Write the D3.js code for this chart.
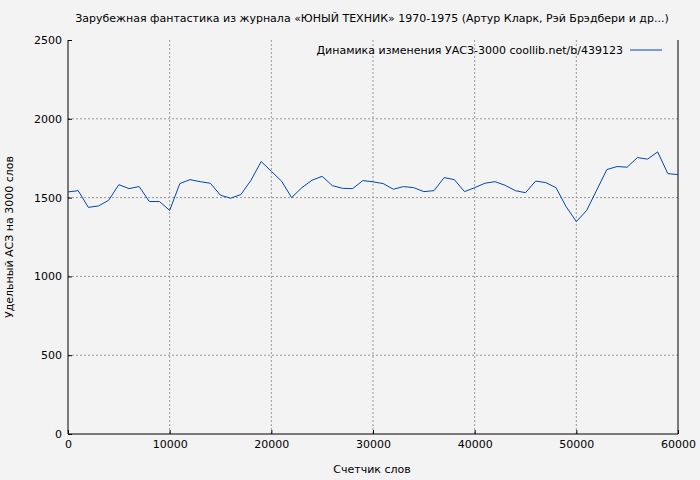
<!DOCTYPE html><html><head><meta charset="utf-8">
<script src="https://cdn.jsdelivr.net/npm/d3@7"></script>
<style>body{margin:0;background:#f3f3f3}text{font-family:"DejaVu Sans",sans-serif;font-size:11px;fill:#000}</style></head><body>
<svg id="c" width="700" height="480"></svg>
<script>
const words=d3.range(0,61).map(k=>k*1000);
const values=[1536,1544,1438,1447,1483,1582,1557,1570,1475,1475,1419,1589,1614,1601,1591,1515,1496,1519,1610,1729,1667,1605,1500,1563,1610,1635,1576,1559,1557,1608,1600,1589,1553,1570,1563,1538,1544,1627,1614,1538,1563,1591,1601,1578,1544,1531,1605,1595,1563,1442,1348,1417,1547,1678,1697,1693,1754,1744,1790,1652,1646];
const xTicks=[0,10000,20000,30000,40000,50000,60000];
const yTicks=[0,500,1000,1500,2000,2500];
const svg=d3.select("#c");
const L=68,R=678,T=40,B=434;
const x=d3.scaleLinear().domain([0,60000]).range([L,R]);
const y=d3.scaleLinear().domain([0,2500]).range([B,T]);
svg.append("rect").attr("width",700).attr("height",480).attr("fill","#f3f3f3");
const g=svg.append("g");
xTicks.slice(1,-1).forEach(t=>g.append("line").attr("x1",x(t)).attr("x2",x(t)).attr("y1",T).attr("y2",B).attr("stroke","#999").attr("stroke-dasharray","2,2"));
yTicks.slice(1,-1).forEach(t=>g.append("line").attr("x1",L).attr("x2",R).attr("y1",y(t)).attr("y2",y(t)).attr("stroke","#999").attr("stroke-dasharray","2,2"));
svg.append("g").attr("transform",`translate(0,${B})`).call(d3.axisBottom(x).tickValues(xTicks).tickFormat(d3.format("d")).tickSize(-4).tickPadding(6))
 .call(a=>{a.select(".domain").remove();a.selectAll("text").style("font-size","11px");});
svg.append("g").attr("transform",`translate(${L},0)`).call(d3.axisLeft(y).tickValues(yTicks).tickFormat(d3.format("d")).tickSize(-4).tickPadding(6))
 .call(a=>{a.select(".domain").remove();a.selectAll("text").style("font-size","11px");});
svg.append("line").attr("x1",L).attr("x2",L).attr("y1",T).attr("y2",B).attr("stroke","#000");
svg.append("line").attr("x1",L).attr("x2",R).attr("y1",B).attr("y2",B).attr("stroke","#000");
svg.append("line").attr("x1",R).attr("x2",R).attr("y1",T).attr("y2",B).attr("stroke","#000");
svg.append("path").datum(values).attr("fill","none").attr("stroke","#0047b3").attr("stroke-width",1)
 .attr("d",d3.line().x((d,i)=>x(words[i])).y(d=>y(d)));
svg.append("text").attr("x",372).attr("y",22).attr("text-anchor","middle").text("Зарубежная фантастика из журнала «ЮНЫЙ ТЕХНИК» 1970-1975 (Артур Кларк, Рэй Брэдбери и др...)");
svg.append("text").attr("x",623).attr("y",54).attr("text-anchor","end").text("Динамика изменения УАСЗ-3000  coollib.net/b/439123");
svg.append("line").attr("x1",630).attr("x2",662).attr("y1",50).attr("y2",50).attr("stroke","#0047b3");
svg.append("text").attr("x",372).attr("y",473).attr("text-anchor","middle").text("Счетчик слов");
svg.append("text").attr("transform","translate(13,237) rotate(-90)").attr("text-anchor","middle").text("Удельный АСЗ на 3000 слов");
</script></body></html>
